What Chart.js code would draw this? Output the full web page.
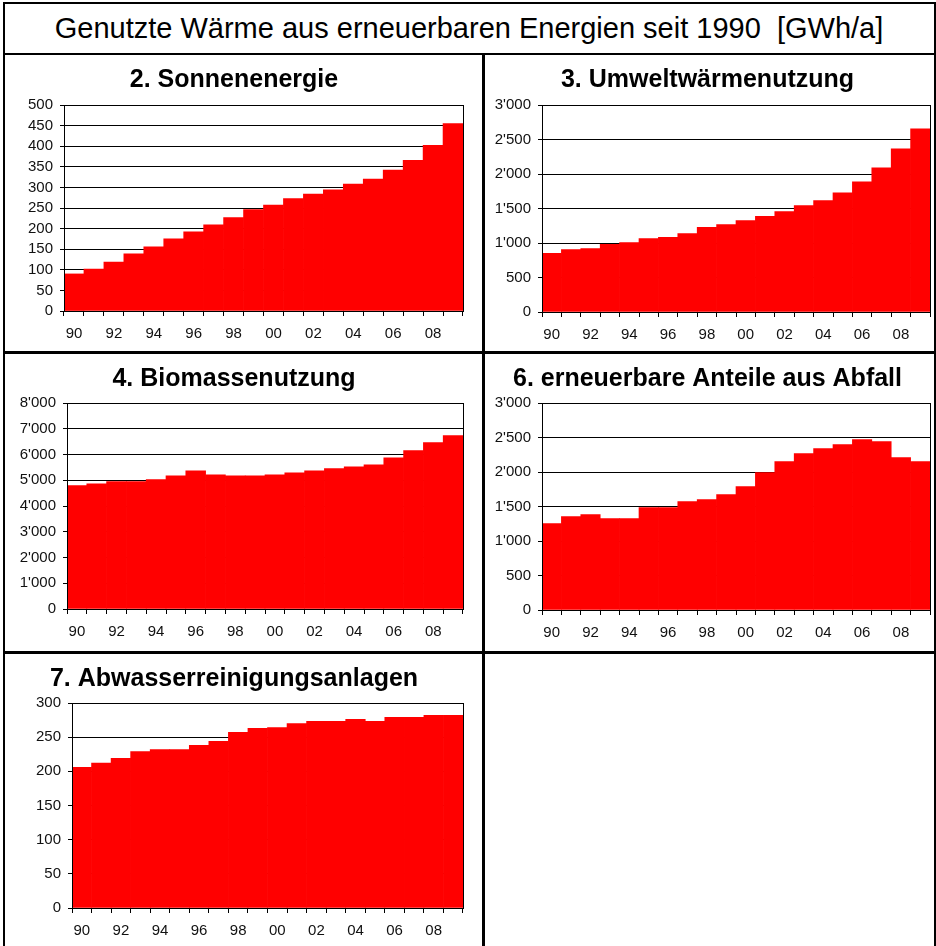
<!DOCTYPE html>
<html>
<head>
<meta charset="utf-8">
<script src="https://cdn.jsdelivr.net/npm/chart.js@4.4.1/dist/chart.umd.min.js"></script>
<style>
  body { margin: 0; background: #fff; }
  #page { position: relative; width: 936px; height: 946px; overflow: hidden; font-family: "Liberation Sans", Arial, sans-serif; }
  .line { position: absolute; background: #000; }
  .cell { position: absolute; }
  #mainTitle { position: absolute; left: 3px; top: 4px; width: 932px; height: 49px; line-height: 49px; text-align: center; font-size: 29px; color: #000; white-space: nowrap; }
</style>
</head>
<body>
<div id="page">
  <div id="mainTitle">Genutzte Wärme aus erneuerbaren Energien seit 1990&nbsp;&nbsp;[GWh/a]</div>
  <div class="line" style="left:3px;top:2px;width:933px;height:2px"></div>
  <div class="line" style="left:3px;top:2px;width:2px;height:944px"></div>
  <div class="line" style="left:934px;top:2px;width:2px;height:944px"></div>
  <div class="line" style="left:3px;top:53px;width:933px;height:2px"></div>
  <div class="line" style="left:482px;top:53px;width:3px;height:893px"></div>
  <div class="line" style="left:3px;top:351px;width:933px;height:3px"></div>
  <div class="line" style="left:3px;top:651px;width:933px;height:3px"></div>
</div>
<script>
const years = ["90", "91", "92", "93", "94", "95", "96", "97", "98", "99",
               "00", "01", "02", "03", "04", "05", "06", "07", "08", "09"];

const sonnenenergie = [90, 102, 119, 139, 156, 175, 192, 209, 227, 246,
                       257, 273, 284, 294, 308, 320, 342, 366, 402, 455];
const umweltwaerme = [852, 905, 920, 982, 1006, 1064, 1083, 1136, 1228, 1266,
                      1324, 1387, 1454, 1541, 1613, 1728, 1887, 2090, 2364, 2653];
const biomasse = [4790, 4860, 4950, 4950, 5030, 5170, 5370, 5210, 5170, 5170,
                  5210, 5290, 5370, 5450, 5520, 5600, 5870, 6150, 6460, 6730];
const abfall = [1254, 1355, 1384, 1326, 1326, 1486, 1486, 1572, 1601, 1674,
                1790, 1992, 2151, 2267, 2340, 2397, 2470, 2441, 2209, 2151];
const abwasser = [206, 212, 219, 229, 232, 232, 238, 244, 257, 263,
                  264, 270, 273, 273, 276, 273, 279, 279, 282, 282];

const panelTitles = ["2. Sonnenenergie", "3. Umweltwärmenutzung", "4. Biomassenutzung",
                     "6. erneuerbare Anteile aus Abfall", "7. Abwasserreinigungsanlagen"];
const yMax = [500, 3000, 8000, 3000, 300];
const yStep = [50, 500, 1000, 500, 50];

// cell box on the page and plot area inside it (page coords)
const cells = [
  { x: 5,   y: 55,  w: 477, h: 296, pl: 64,  pt: 105, pr: 463, pb: 311 },
  { x: 485, y: 55,  w: 449, h: 296, pl: 542, pt: 105, pr: 930, pb: 312 },
  { x: 5,   y: 354, w: 477, h: 297, pl: 67,  pt: 403, pr: 463, pb: 609 },
  { x: 485, y: 354, w: 449, h: 297, pl: 542, pt: 403, pr: 930, pb: 610 },
  { x: 5,   y: 654, w: 477, h: 292, pl: 72,  pt: 703, pr: 463, pb: 908 }
];

const fmt = v => String(v).replace(/\B(?=(\d{3})+(?!\d))/g, "'");

const framePlugin = {
  id: "plotFrame",
  afterDatasetsDraw(chart) {
    const { ctx, chartArea: a } = chart;
    ctx.save();
    ctx.strokeStyle = "#000";
    ctx.lineWidth = 1;
    ctx.strokeRect(Math.round(a.left) + 0.5, Math.round(a.top) + 0.5,
                   Math.round(a.right - a.left), Math.round(a.bottom - a.top));
    ctx.restore();
  }
};

const series = [sonnenenergie, umweltwaerme, biomasse, abfall, abwasser];
const page = document.getElementById("page");

series.forEach((data, i) => {
  const c = cells[i];
  const div = document.createElement("div");
  div.className = "cell";
  div.style.left = c.x + "px";
  div.style.top = c.y + "px";
  const canvas = document.createElement("canvas");
  canvas.width = c.w;
  canvas.height = c.h;
  div.appendChild(canvas);
  page.appendChild(div);

  const top = c.pt - c.y;
  const yAxisW = c.pl - c.x;
  const xAxisH = c.y + c.h - c.pb;

  new Chart(canvas.getContext("2d"), {
    type: "bar",
    data: {
      labels: years,
      datasets: [{
        data,
        backgroundColor: "#ff0000",
        borderWidth: 0,
        categoryPercentage: 1,
        barPercentage: 1
      }]
    },
    plugins: [framePlugin],
    options: {
      responsive: false,
      animation: false,
      devicePixelRatio: 1,
      layout: { padding: { left: 0, top: 0, right: c.x + c.w - c.pr, bottom: 0 } },
      plugins: {
        legend: { display: false },
        tooltip: { enabled: false },
        title: {
          display: true,
          text: panelTitles[i],
          color: "#000",
          font: { family: "Liberation Sans, Arial, sans-serif", size: 25, weight: "bold", lineHeight: "28px" },
          padding: { top: 11, bottom: top - 28 - 11 }
        }
      },
      scales: {
        x: {
          grid: { offset: true, drawOnChartArea: false, drawTicks: true, tickLength: 5, color: "#000" },
          border: { color: "#000" },
          ticks: {
            autoSkip: false, maxRotation: 0, padding: 9, color: "#111",
            font: { family: "Liberation Sans, Arial, sans-serif", size: 15 },
            callback: (v, idx) => idx % 2 === 0 ? years[idx] : ""
          },
          afterFit: s => { s.height = xAxisH; }
        },
        y: {
          min: 0,
          max: yMax[i],
          grid: { color: "#000", tickLength: 4 },
          border: { color: "#000" },
          ticks: {
            stepSize: yStep[i], autoSkip: false, padding: 7, color: "#111",
            font: { family: "Liberation Sans, Arial, sans-serif", size: 15 },
            callback: v => fmt(v)
          },
          afterFit: s => { s.width = yAxisW; }
        }
      }
    }
  });
});
</script>
</body>
</html>
